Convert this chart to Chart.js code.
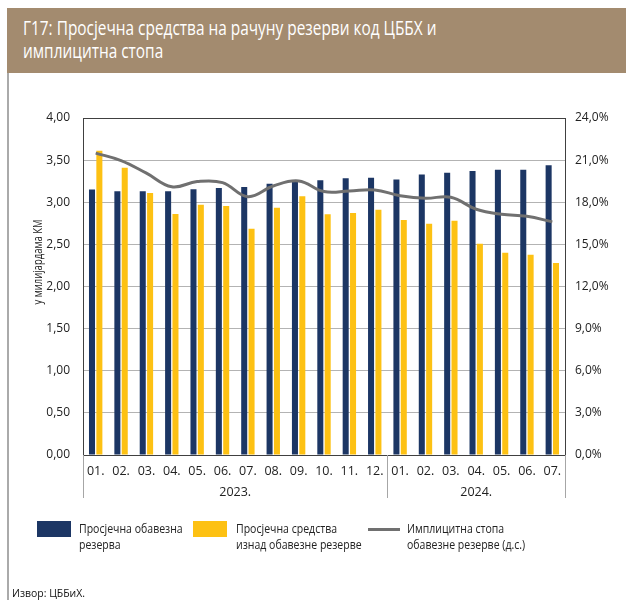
<!DOCTYPE html>
<html><head><meta charset="utf-8">
<script src="https://cdn.jsdelivr.net/npm/chart.js@4.4.1/dist/chart.umd.min.js"></script>
<style>
html,body{margin:0;padding:0;background:#fff;width:626px;height:600px;overflow:hidden;font-family:"Open Sans","Noto Sans",sans-serif;}
#title{position:absolute;left:7px;top:8px;width:619px;height:65px;background:#a38b6f;}
#title span{position:absolute;left:16px;top:8px;white-space:nowrap;color:#fff;font-size:20px;line-height:23px;transform:scaleX(0.77);transform-origin:0 0;}
#bord{position:absolute;left:7px;top:73px;width:2px;height:527px;background:#aaa;}
#c{position:absolute;left:0;top:0;}
.leg{position:absolute;top:520px;font-size:13px;line-height:16px;color:#222;white-space:nowrap;transform:scaleX(0.81);transform-origin:0 0;}
.sw{position:absolute;}
#src{position:absolute;left:12px;top:587px;font-size:11px;line-height:12px;color:#111;white-space:nowrap;transform:scaleX(0.95);transform-origin:0 0;}
</style></head><body>
<div id="title"><span>Г17: Просјечна средства на рачуну резерви код ЦББХ и<br>имплицитна стопа</span></div>
<div id="bord"></div>
<canvas id="c" width="626" height="600"></canvas>
<div class="sw" style="left:37px;top:521px;width:34px;height:16px;background:#1c3664"></div>
<div class="leg" style="left:79px">Просјечна обавезна<br>резерва</div>
<div class="sw" style="left:193px;top:521px;width:34px;height:16px;background:#fdc113"></div>
<div class="leg" style="left:236px">Просјечна средства<br>изнад обавезне резерве</div>
<div class="sw" style="left:368px;top:528px;width:32px;height:3px;background:#707070"></div>
<div class="leg" style="left:407px">Имплицитна стопа<br>обавезне резерве (д.с.)</div>
<div id="src">Извор: ЦББиХ.</div>
<script>
const months = ['01.','02.','03.','04.','05.','06.','07.','08.','09.','10.','11.','12.','01.','02.','03.','04.','05.','06.','07.'];
const years = [{label:'2023.', from:0, to:11},{label:'2024.', from:12, to:18}];
const requiredReserve = [3.15,3.13,3.13,3.13,3.155,3.17,3.18,3.22,3.245,3.26,3.285,3.29,3.27,3.33,3.35,3.37,3.385,3.385,3.44];
const excessReserve = [3.61,3.41,3.11,2.86,2.97,2.955,2.685,2.935,3.07,2.857,2.873,2.91,2.79,2.745,2.78,2.507,2.40,2.376,2.28];
const impliedRate = [21.5,20.97,20.07,19.1,19.47,19.4,18.4,19.16,19.52,18.76,18.8,18.88,18.47,18.28,18.36,17.5,17.14,17.0,16.6];

const FONT = '"Open Sans","Noto Sans",sans-serif';
const extras = {
  id:'extras',
  afterDraw(chart){
    const ctx = chart.ctx, x = chart.scales.x, area = chart.chartArea;
    ctx.save();
    ctx.strokeStyle = '#a6a6a6'; ctx.lineWidth = 1;
    const half = (x.getPixelForValue(1)-x.getPixelForValue(0))/2;
    const seps = [x.getPixelForValue(0)-half, x.getPixelForValue(12)-half, x.getPixelForValue(18)+half];
    seps.forEach(p=>{ctx.beginPath();ctx.moveTo(Math.round(p)+0.5,area.bottom);ctx.lineTo(Math.round(p)+0.5,area.bottom+43);ctx.stroke();});
    ctx.fillStyle = '#222'; ctx.font = '12.5px '+FONT; ctx.textAlign='center'; ctx.textBaseline='middle';
    years.forEach(y=>{
      const cx = (x.getPixelForValue(y.from)+x.getPixelForValue(y.to))/2;
      ctx.fillText(y.label, cx, area.bottom+37);
    });
    ctx.translate(38,262); ctx.rotate(-Math.PI/2); ctx.scale(0.76,1);
    ctx.font = '12.5px '+FONT;
    ctx.fillText('у милијардама КМ',0,0);
    ctx.restore();
  }
};

new Chart(document.getElementById('c'),{
  data:{
    labels: months,
    datasets:[
      {type:'line', label:'Имплицитна стопа обавезне резерве (д.с.)', data:impliedRate, yAxisID:'y1', borderColor:'#707070', borderWidth:3, pointRadius:0, tension:0.4, order:0},
      {type:'bar', label:'Просјечна обавезна резерва', data:requiredReserve, yAxisID:'y', backgroundColor:'#1c3664', categoryPercentage:0.58, barPercentage:0.82, order:1},
      {type:'bar', label:'Просјечна средства изнад обавезне резерве', data:excessReserve, yAxisID:'y', backgroundColor:'#fdc113', categoryPercentage:0.58, barPercentage:0.82, order:1}
    ]
  },
  options:{
    responsive:false, animation:false,
    layout:{padding:{top:118,left:0,right:0,bottom:0}},
    plugins:{legend:{display:false},tooltip:{enabled:false}},
    scales:{
      x:{
        grid:{display:false, drawTicks:false},
        border:{display:true,color:'#404040',width:1},
        ticks:{color:'#222',font:{family:FONT,size:12.5},padding:9,maxRotation:0,autoSkip:false},
        afterFit(s){s.height=145;}
      },
      y:{
        position:'left', min:0, max:4,
        grid:{color:(c)=>c.tick && c.tick.value===4 ? '#404040':'#b3b3b3', drawTicks:false},
        border:{display:true,color:'#404040',width:1},
        ticks:{stepSize:0.5,color:'#222',font:{family:FONT,size:12},padding:13,callback:(v)=>v.toFixed(2).replace('.',',')},
        afterFit(s){s.width=83;}
      },
      y1:{
        position:'right', min:0, max:24,
        grid:{display:false, drawTicks:false},
        border:{display:true,color:'#404040',width:1},
        ticks:{stepSize:3,color:'#222',font:{family:FONT,size:12},padding:10,callback:(v)=>v.toFixed(1).replace('.',',')+'%'},
        afterFit(s){s.width=61;}
      }
    }
  },
  plugins:[extras]
});
</script>
</body></html>
